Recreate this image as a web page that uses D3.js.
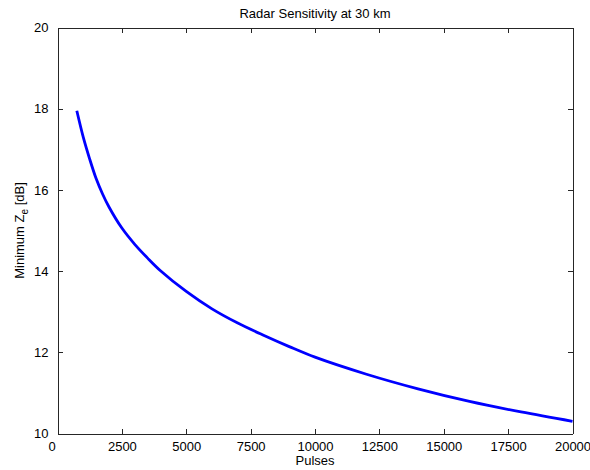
<!DOCTYPE html>
<html>
<head>
<meta charset="utf-8">
<script src="https://cdn.jsdelivr.net/npm/d3@7"></script>
<style>
  html, body { margin: 0; padding: 0; background: #fff; }
  svg { display: block; font-family: "Liberation Sans", Arial, sans-serif; }
  .axis text { font-size: 13px; fill: #000; }
  .axis path, .axis line { stroke: #262626; shape-rendering: crispEdges; }
</style>
</head>
<body>
<div id="chart"></div>
<script>
// Radar sensitivity vs. number of pulses.

const pulses = [750, 1000, 1250, 1500, 1750, 2000, 2500, 3000, 3500, 4000, 5000,
                6000, 7000, 8000, 9000, 10000, 12000, 14000, 16000, 18000, 20000];
const minZe  = [17.95, 17.30, 16.76, 16.28, 15.90, 15.58, 15.06, 14.66, 14.32, 14.01, 13.50,
                13.07, 12.72, 12.42, 12.14, 11.88, 11.46, 11.10, 10.79, 10.53, 10.30];

const xTicks = [0, 2500, 5000, 7500, 10000, 12500, 15000, 17500, 20000];
const yTicks = [10, 12, 14, 16, 18, 20];

const W = 590, H = 470;
const margin = { top: 27.5, right: 17.5, bottom: 36.5, left: 57.5 };
const x0 = margin.left, x1 = W - margin.right;
const y0 = margin.top, y1 = H - margin.bottom;

const svg = d3.select("#chart").append("svg")
  .attr("width", W).attr("height", H);

const x = d3.scaleLinear().domain([0, 20000]).range([x0, x1]);
const y = d3.scaleLinear().domain([10, 20]).range([y1, y0]);

// axes: ticks point inward, mirrored on top/right like a matlab box
const tick = 5;
const gx = svg.append("g").attr("class", "axis")
  .attr("transform", `translate(0,${y1})`)
  .call(d3.axisBottom(x).tickValues(xTicks).tickFormat(d3.format("d"))
    .tickSizeInner(-tick).tickSizeOuter(0).tickPadding(8));
gx.selectAll(".tick text").attr("dx", d => d === 0 ? -6 : 0);

svg.append("g").attr("class", "axis")
  .attr("transform", `translate(0,${y0})`)
  .call(d3.axisTop(x).tickValues(xTicks).tickFormat("")
    .tickSizeInner(-tick).tickSizeOuter(0));

svg.append("g").attr("class", "axis")
  .attr("transform", `translate(${x0},0)`)
  .call(d3.axisLeft(y).tickValues(yTicks).tickFormat(d3.format("d"))
    .tickSizeInner(-tick).tickSizeOuter(0).tickPadding(9));

svg.append("g").attr("class", "axis")
  .attr("transform", `translate(${x1},0)`)
  .call(d3.axisRight(y).tickValues(yTicks).tickFormat("")
    .tickSizeInner(-tick).tickSizeOuter(0));

// curve
const line = d3.line()
  .x((d, i) => x(pulses[i]))
  .y(d => y(d))
  .curve(d3.curveCatmullRom.alpha(0.5));

svg.append("path")
  .datum(minZe)
  .attr("d", line)
  .attr("fill", "none")
  .attr("stroke", "#0000ff")
  .attr("stroke-width", 2.8)
  .attr("stroke-linejoin", "round");

// labels
svg.append("text")
  .attr("x", (x0 + x1) / 2).attr("y", 17.5)
  .attr("text-anchor", "middle").attr("font-size", 13)
  .text("Radar Sensitivity at 30 km");

svg.append("text")
  .attr("x", (x0 + x1) / 2).attr("y", 465)
  .attr("text-anchor", "middle").attr("font-size", 13)
  .text("Pulses");

const yl = svg.append("text")
  .attr("transform", `translate(24,${(y0 + y1) / 2}) rotate(-90)`)
  .attr("text-anchor", "middle").attr("font-size", 13);
yl.append("tspan").text("Minimum Z");
yl.append("tspan").attr("dy", 4).attr("font-size", 10).text("e");
yl.append("tspan").attr("dy", -4).text(" [dB]");
</script>
</body>
</html>
